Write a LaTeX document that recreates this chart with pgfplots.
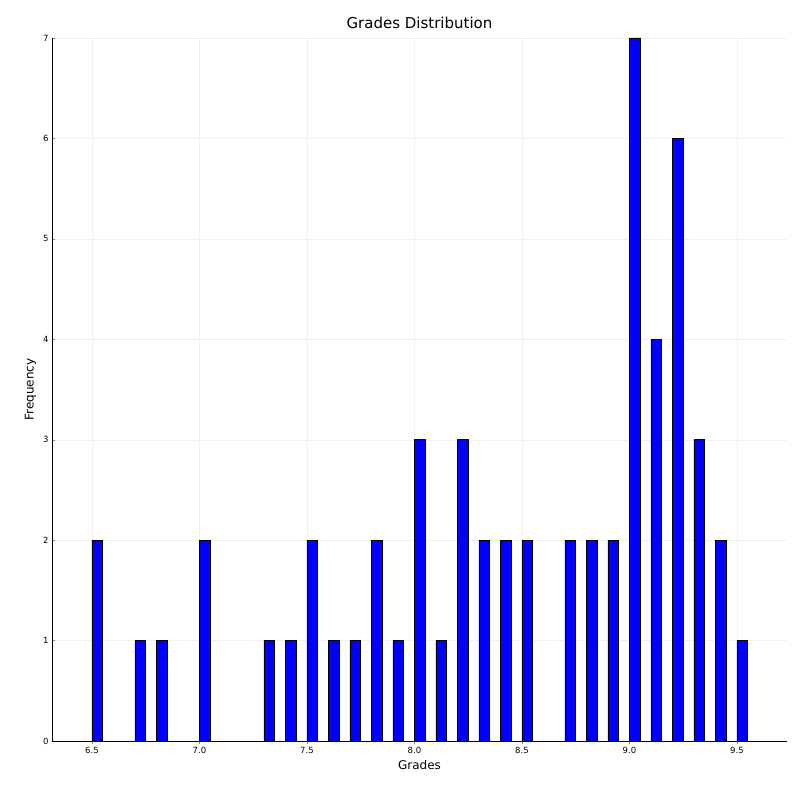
\documentclass[border=0pt]{standalone}
\usepackage{pgfplots}
\pgfplotsset{compat=1.18}
\usepackage{fontspec}
\setmainfont{DejaVu Sans}
\begin{document}
\begin{tikzpicture}
\begin{axis}[
  name=ax,
  scale only axis, width=735pt, height=703pt,
  xmin=6.314, xmax=9.733, ymin=0, ymax=7,
  axis lines*=left,
  xtick={6.5,7.0,7.5,8.0,8.5,9.0,9.5},
  xticklabels={6.5,7.0,7.5,8.0,8.5,9.0,9.5},
  ytick={0,1,2,3,4,5,6,7},
  grid=major, grid style={gray!12},
  tick label style={font=\fontsize{8.5}{10}\selectfont},
  /pgf/number format/assume math mode=true,
  xlabel={Grades}, ylabel={Frequency},
  label style={font=\fontsize{12}{14}\selectfont},
  title={Grades Distribution},
  title style={font=\fontsize{15}{17}\selectfont},
  tick align=inside, major tick length=3pt,
  ybar, bar width=0.05, bar shift=0.025,
]
\addplot[fill=blue, draw=black, line width=0.6pt] coordinates {
(6.5,2)(6.7,1)(6.8,1)(7.0,2)(7.3,1)(7.4,1)(7.5,2)(7.6,1)(7.7,1)(7.8,2)(7.9,1)
(8.0,3)(8.1,1)(8.2,3)(8.3,2)(8.4,2)(8.5,2)(8.7,2)(8.8,2)(8.9,2)(9.0,7)(9.1,4)
(9.2,6)(9.3,3)(9.4,2)(9.5,1)};
\end{axis}
\path ([shift={(-52pt,-59pt)}]ax.south west) rectangle ([shift={(12pt,38pt)}]ax.north east);
\end{tikzpicture}
\end{document}
